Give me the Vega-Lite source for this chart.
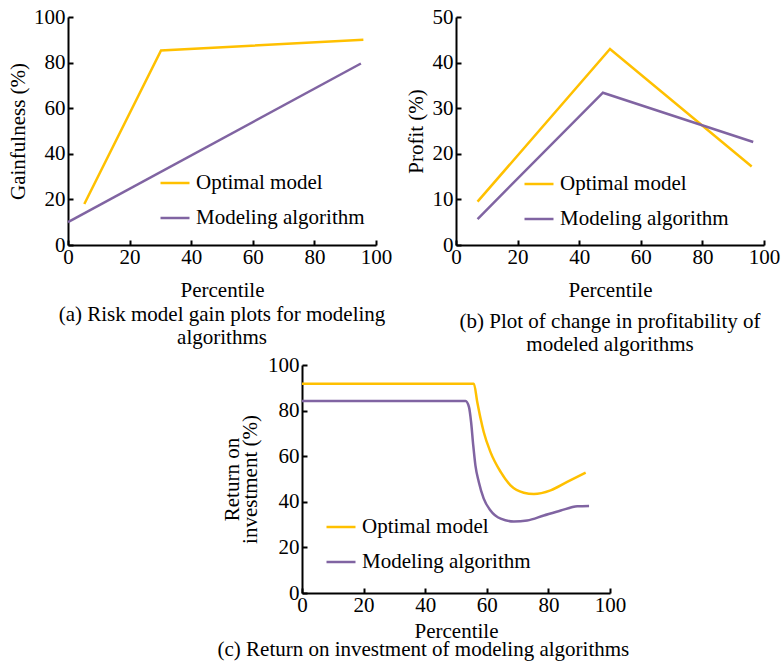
{
  "$schema": "https://vega.github.io/schema/vega-lite/v6.json",
  "background": "white",
  "padding": {"left": 7, "top": 6, "right": 5, "bottom": 5},
  "autosize": {"type": "pad"},
  "spacing": -1,
  "config": {
    "font": "Liberation Serif, Times New Roman, serif",
    "view": {"stroke": null},
    "axis": {
      "domainColor": "black", "domainWidth": 2, "tickColor": "black", "tickWidth": 2, "tickSize": -5,
      "grid": false, "labelFont": "Liberation Serif, Times New Roman, serif", "labelFontSize": 21, "labelColor": "black",
      "labelFlush": false, "labelOverlap": false, "labelPadding": 6,
      "titleFont": "Liberation Serif, Times New Roman, serif", "titleFontSize": 21, "titleFontWeight": "normal", "titleColor": "black"
    },
    "axisY": {"titlePadding": 5.5, "labelPadding": 8},
    "legend": {
      "orient": "none", "title": null, "symbolType": "stroke", "symbolSize": 841, "symbolStrokeWidth": 2.5,
      "labelFont": "Liberation Serif, Times New Roman, serif", "labelFontSize": 21, "labelColor": "black", "labelOffset": 5,
      "labelLimit": 400, "rowPadding": 9, "padding": 0
    },
    "title": {"font": "Liberation Serif, Times New Roman, serif", "fontSize": 21, "fontWeight": "normal", "color": "black", "lineHeight": 23, "orient": "bottom", "anchor": "middle"},
    "line": {"strokeWidth": 2.5}
  },
  "vconcat": [
    {
      "hconcat": [
        {
          "width": 308, "height": 228,
          "title": {"text": ["(a) Risk model gain plots for modeling", "algorithms"], "offset": 4},
          "data": {"values": [
            {"series": "Optimal model", "x": 5.3, "y": 18},
            {"series": "Optimal model", "x": 30.2, "y": 85.3},
            {"series": "Optimal model", "x": 95.9, "y": 90},
            {"series": "Modeling algorithm", "x": 0, "y": 10},
            {"series": "Modeling algorithm", "x": 95.1, "y": 79.6}
          ]},
          "mark": {"type": "line"},
          "encoding": {
            "x": {"field": "x", "type": "quantitative", "scale": {"domain": [0, 100], "nice": false}, "axis": {"values": [0, 20, 40, 60, 80, 100], "title": "Percentile", "titlePadding": 12}},
            "y": {"field": "y", "type": "quantitative", "scale": {"domain": [0, 100], "nice": false}, "axis": {"values": [0, 20, 40, 60, 80, 100], "title": "Gainfulness (%)"}},
            "color": {"field": "series", "type": "nominal", "scale": {"domain": ["Optimal model", "Modeling algorithm"], "range": ["#FFC000", "#8064A2"]}, "legend": {"legendX": 91, "legendY": 150}}
          }
        },
        {
          "width": 308, "height": 228,
          "title": {"text": ["(b) Plot of change in profitability of", "modeled algorithms"], "offset": 11},
          "data": {"values": [
            {"series": "Optimal model", "x": 7, "y": 9.5},
            {"series": "Optimal model", "x": 50, "y": 43},
            {"series": "Optimal model", "x": 96, "y": 17.2},
            {"series": "Modeling algorithm", "x": 7, "y": 5.7},
            {"series": "Modeling algorithm", "x": 47.7, "y": 33.4},
            {"series": "Modeling algorithm", "x": 96.5, "y": 22.6}
          ]},
          "mark": {"type": "line"},
          "encoding": {
            "x": {"field": "x", "type": "quantitative", "scale": {"domain": [0, 100], "nice": false}, "axis": {"values": [0, 20, 40, 60, 80, 100], "title": "Percentile", "titlePadding": 12}},
            "y": {"field": "y", "type": "quantitative", "scale": {"domain": [0, 50], "nice": false}, "axis": {"values": [0, 10, 20, 30, 40, 50], "title": "Profit (%)"}},
            "color": {"field": "series", "type": "nominal", "scale": {"domain": ["Optimal model", "Modeling algorithm"], "range": ["#FFC000", "#8064A2"]}, "legend": {"legendX": 67, "legendY": 151}}
          }
        }
      ],
      "spacing": 80,
      "bounds": "flush",
      "resolve": {"scale": {"color": "independent", "x": "independent", "y": "independent"}, "legend": {"color": "independent"}}
    },
    {
      "hconcat": [
        {
          "width": 154, "height": 228,
          "data": {"values": []},
          "mark": {"type": "point", "opacity": 0},
          "encoding": {}
        },
        {
          "width": 308, "height": 228,
          "title": {"text": "(c) Return on investment of modeling algorithms", "offset": -2, "frame": "bounds"},
          "data": {"values": [
            {"series": "Optimal model", "x": 0, "y": 91.8},
            {"series": "Optimal model", "x": 55.8, "y": 91.8},
            {"series": "Optimal model", "x": 56.9, "y": 83.8},
            {"series": "Optimal model", "x": 58, "y": 76.4},
            {"series": "Optimal model", "x": 59, "y": 70.6},
            {"series": "Optimal model", "x": 61.2, "y": 61.8},
            {"series": "Optimal model", "x": 64.5, "y": 53.1},
            {"series": "Optimal model", "x": 67.7, "y": 47.2},
            {"series": "Optimal model", "x": 72, "y": 44},
            {"series": "Optimal model", "x": 75.3, "y": 43.4},
            {"series": "Optimal model", "x": 80.7, "y": 45},
            {"series": "Optimal model", "x": 86.1, "y": 48.7},
            {"series": "Optimal model", "x": 92.1, "y": 52.8},
            {"series": "Modeling algorithm", "x": 0, "y": 84.2},
            {"series": "Modeling algorithm", "x": 53.1, "y": 84.2},
            {"series": "Modeling algorithm", "x": 54.2, "y": 81.6},
            {"series": "Modeling algorithm", "x": 54.9, "y": 75},
            {"series": "Modeling algorithm", "x": 55.6, "y": 64.7},
            {"series": "Modeling algorithm", "x": 56.3, "y": 56},
            {"series": "Modeling algorithm", "x": 57.4, "y": 48.7},
            {"series": "Modeling algorithm", "x": 59, "y": 41.4},
            {"series": "Modeling algorithm", "x": 61.2, "y": 36.2},
            {"series": "Modeling algorithm", "x": 64.5, "y": 32.6},
            {"series": "Modeling algorithm", "x": 68.8, "y": 31.4},
            {"series": "Modeling algorithm", "x": 73.1, "y": 31.8},
            {"series": "Modeling algorithm", "x": 78.5, "y": 34},
            {"series": "Modeling algorithm", "x": 84, "y": 36.2},
            {"series": "Modeling algorithm", "x": 89.4, "y": 38},
            {"series": "Modeling algorithm", "x": 93.2, "y": 38.2}
          ]},
          "mark": {"type": "line", "interpolate": "monotone"},
          "encoding": {
            "x": {"field": "x", "type": "quantitative", "scale": {"domain": [0, 100], "nice": false}, "axis": {"values": [0, 20, 40, 60, 80, 100], "title": "Percentile", "titlePadding": 5}},
            "y": {"field": "y", "type": "quantitative", "scale": {"domain": [0, 100], "nice": false}, "axis": {"values": [0, 20, 40, 60, 80, 100], "title": ["Return on", "investment (%)"], "titleLineHeight": 18, "titlePadding": 7.5}},
            "color": {"field": "series", "type": "nominal", "scale": {"domain": ["Optimal model", "Modeling algorithm"], "range": ["#FFC000", "#8064A2"]}, "legend": {"legendX": 23, "legendY": 146}}
          }
        }
      ],
      "spacing": 80,
      "bounds": "flush",
      "resolve": {"scale": {"color": "independent", "x": "independent", "y": "independent"}, "legend": {"color": "independent"}}
    }
  ],
  "resolve": {"scale": {"color": "independent", "x": "independent", "y": "independent"}, "legend": {"color": "independent"}}
}
